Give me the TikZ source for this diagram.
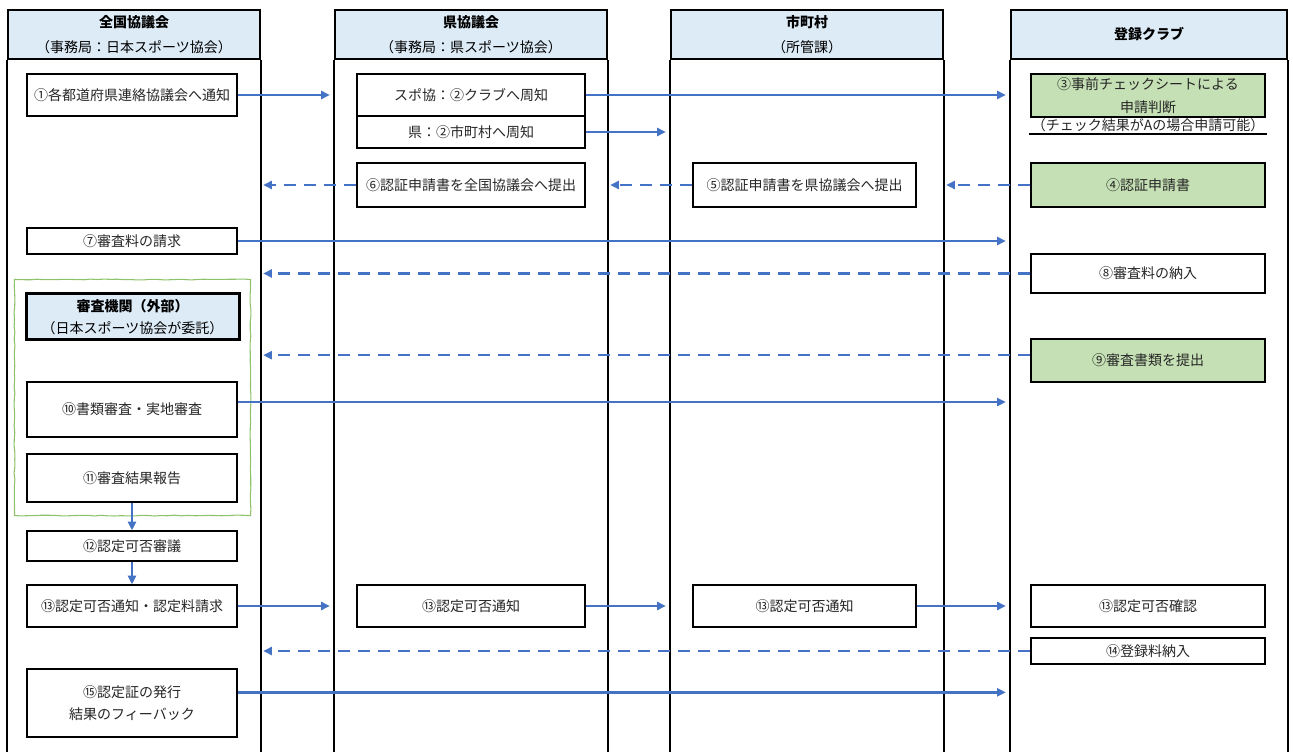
\documentclass[tikz,border=0pt]{standalone}
\usepackage{fontspec}
\setmainfont{Noto Sans CJK JP}
\usetikzlibrary{arrows.meta,fit,decorations.pathmorphing}
\definecolor{headblue}{HTML}{DDEBF7}
\definecolor{boxgreen}{HTML}{C5E0B4}
\definecolor{framegreen}{HTML}{8CC26A}
\definecolor{flowblue}{HTML}{4472C4}
\begin{document}
\begin{tikzpicture}[x=0.75pt,y=-0.75pt,
    lanehead/.style={draw,line width=1.8pt,fill=headblue,minimum width=204pt,minimum height=36.75pt,
      align=center,font=\fontsize{10.5pt}{18.5pt}\selectfont},
    box/.style={draw,line width=0.9pt,fill=white,align=center,inner sep=1.5pt,
      font=\fontsize{10.5pt}{17pt}\selectfont,text=black!85},
    colone/.style={box,minimum width=157.5pt},
    coltwo/.style={box,minimum width=171pt},
    colthree/.style={box,minimum width=167.25pt},
    colfour/.style={box,minimum width=175.5pt},
    flow/.style={draw=flowblue,line width=1.8pt,-{Triangle[length=6.5pt,width=6pt]},shorten >=3pt},
    back/.style={flow,dash pattern=on 9pt off 6pt,shorten >=1.5pt}]
      \useasboundingbox (0,0) rectangle (1293,752);
      \node[lanehead,minimum width=189pt] (h1) at (134,34.5) {\textbf{全国協議会}\\（事務局：日本スポーツ協会）};
      \node[lanehead] (h2) at (471,34.5) {\textbf{県協議会}\\（事務局：県スポーツ協会）};
      \node[lanehead] (h3) at (807,34.5) {\textbf{市町村}\\（所管課）};
      \node[lanehead,minimum width=207pt] (h4) at (1149,34.5) {\textbf{登録クラブ}};
      \foreach \h in {h1,h2,h3,h4}
        \draw[line width=1.8pt] (\h.south west) -- ++(0,720) (\h.south east) -- ++(0,720);
      \node[colone,minimum height=31.5pt] (a1) at (132,95) {①各都道府県連絡協議会へ通知};
      \node[colone,minimum height=19.5pt] (a7) at (132,241) {⑦審査料の請求};
      \node[colone,minimum width=159.75pt,minimum height=34.5pt,line width=2.25pt,fill=headblue,text=black]
        (ext) at (132.5,317) {\textbf{審査機関（外部）}\\（日本スポーツ協会が委託）};
      \node[colone,minimum height=41.25pt] (a10) at (132,409.5) {⑩書類審査・実地審査};
      \node[colone,minimum height=36pt] (a11) at (132,478) {⑪審査結果報告};
      \node[draw=framegreen,line width=0.8pt,decorate,decoration={random steps,segment length=5pt,amplitude=0.35pt},
        fit=(ext)(a11),inner xsep=7.5pt,inner ysep=9.75pt] (exam) {};
      \node[colone,minimum height=22.5pt] (a12) at (132,546) {⑫認定可否審議};
      \node[colone,minimum height=31.5pt] (a13) at (132,606) {⑬認定可否通知・認定料請求};
      \node[colone,minimum height=51pt] (a15) at (132,703) {⑮認定証の発行\\結果のフィーバック};
      \node[coltwo,minimum height=31.5pt] (b2a) at (471,95) {スポ協：②クラブへ周知};
      \node[coltwo,minimum height=24pt] (b2b) at (471,132) {県：②市町村へ周知};
      \node[coltwo,minimum height=33pt] (b6) at (471,185) {⑥認証申請書を全国協議会へ提出};
      \node[coltwo,minimum height=31.5pt] (b13) at (471,606) {⑬認定可否通知};
      \node[colthree,minimum height=33pt] (c5) at (804.5,185) {⑤認証申請書を県協議会へ提出};
      \node[colthree,minimum height=31.5pt] (c13) at (804.5,606) {⑬認定可否通知};
      \node[colfour,fill=boxgreen,minimum height=32.25pt,inner ysep=0.5pt] (d3) at (1148,95.5) {③事前チェックシートによる\\申請判断};
      \node[colfour,draw=none,fill=none,anchor=south,inner ysep=1pt] (d3n) at (1148,134) {（チェック結果がAの場合申請可能）};
      \draw[line width=0.9pt] (d3n.south west) -- (d3n.south east);
      \node[colfour,fill=boxgreen,minimum height=33pt] (d4) at (1148,185) {④認証申請書};
      \node[colfour,minimum height=29.25pt] (d8) at (1148,273.5) {⑧審査料の納入};
      \node[colfour,fill=boxgreen,minimum height=32.25pt] (d9) at (1148,360.5) {⑨審査書類を提出};
      \node[colfour,minimum height=31.5pt] (d13) at (1148,606) {⑬認定可否確認};
      \node[colfour,minimum height=19.5pt] (d14) at (1148,651) {⑭登録料納入};
      \begin{scope}
        \draw[flow] (a1.east) -- (a1.east -| h2.west);
        \draw[flow] (b2a.east) -- (b2a.east -| h4.west);
        \draw[flow] (b2b.east) -- (b2b.east -| h3.west);
        \draw[back] (d4.west) -- (d4.west -| h3.east);
        \draw[back] (c5.west) -- (c5.west -| h2.east);
        \draw[back] (b6.west) -- (b6.west -| h1.east);
        \draw[flow] (a7.east) -- (a7.east -| h4.west);
        \draw[back] (d8.west) -- (d8.west -| h1.east);
        \draw[back] ([yshift=4pt]d9.west) -- ([yshift=4pt]d9.west -| h1.east);
        \draw[flow] ([yshift=5.6pt]a10.east) -- ([yshift=5.6pt]a10.east -| h4.west);
        \draw[flow,shorten >=0pt] (a11) -- (a12);
        \draw[flow,shorten >=0pt] (a12) -- (a13);
        \draw[flow] (a13.east) -- (a13.east -| h2.west);
        \draw[flow] (b13.east) -- (b13.east -| h3.west);
        \draw[flow] (c13.east) -- (c13.east -| h4.west);
        \draw[back] (d14.west) -- (d14.west -| h1.east);
        \draw[flow] ([yshift=8pt]a15.east) -- ([yshift=8pt]a15.east -| h4.west);
      \end{scope}
    \end{tikzpicture}
\end{document}
